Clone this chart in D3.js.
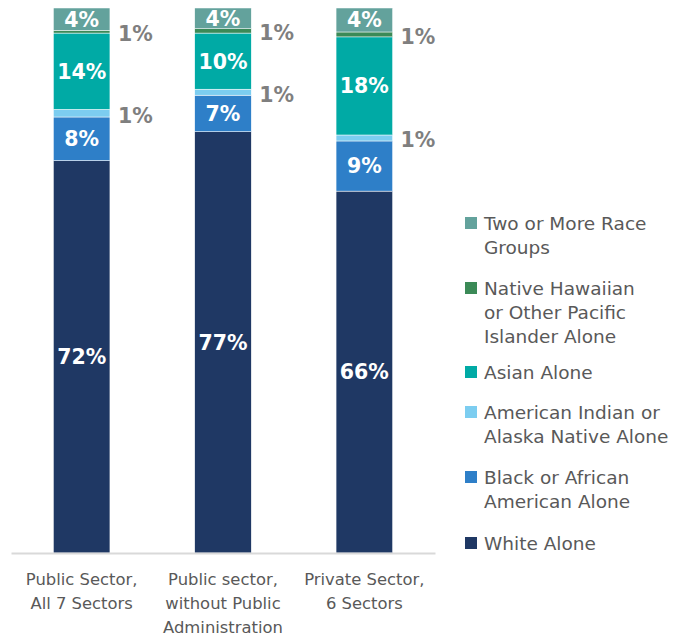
<!DOCTYPE html>
<html>
<head>
<meta charset="utf-8">
<script src="https://cdn.jsdelivr.net/npm/d3@7"></script>
<style>
  body { margin: 0; background: #fff; }
  svg text { font-family: "Century Gothic", "DejaVu Sans", sans-serif; }
</style>
</head>
<body>
<svg id="chart" width="689" height="637"></svg>
<script>
// sectors (x axis tick labels, one array of lines per bar)
var sectors = [
  ["Public Sector,", "All 7 Sectors"],
  ["Public sector,", "without Public", "Administration"],
  ["Private Sector,", "6 Sectors"]
];

// series, stacked bottom to top (percent of workers)
var white = [72, 77.3, 66.4];
var black = [8, 6.7, 9.2];
var aian = [1.4, 1.1, 1.1];
var asian = [14, 10.3, 18];
var nhpi = [0.5, 0.8, 0.9];
var twoPlus = [4.1, 3.8, 4.4];

var seriesNames = ["White Alone", "Black or African American Alone", "American Indian or Alaska Native Alone",
  "Asian Alone", "Native Hawaiian or Other Pacific Islander Alone", "Two or More Race Groups"];
var legendLines = [
  ["White Alone"],
  ["Black or African", "American Alone"],
  ["American Indian or", "Alaska Native Alone"],
  ["Asian Alone"],
  ["Native Hawaiian", "or Other Pacific", "Islander Alone"],
  ["Two or More Race", "Groups"]
];
var colors = ["#1f3864", "#2e7fc8", "#7ccdf0", "#00aaa5", "#3b8a57", "#63a29c"];
var outside = [false, false, true, false, true, false];

var svg = d3.select("#chart");

var rows = sectors.map(function(s, i) {
  return {i: i, s0: white[i], s1: black[i], s2: aian[i], s3: asian[i], s4: nhpi[i], s5: twoPlus[i]};
});
var keys = ["s0", "s1", "s2", "s3", "s4", "s5"];
var stacked = d3.stack().keys(keys)(rows);

var x = d3.scaleBand().domain(d3.range(sectors.length)).range([11, 435]).paddingInner(0.6).paddingOuter(0.3);
var y = d3.scaleLinear().domain([0, 100]).range([553, 8]);

// bars
var layer = svg.append("g").selectAll("g")
  .data(stacked)
  .join("g")
  .attr("fill", function(d, k) { return colors[k]; });

layer.selectAll("rect")
  .data(function(d) { return d; })
  .join("rect")
  .attr("x", function(d) { return x(d.data.i); })
  .attr("width", x.bandwidth())
  .attr("y", function(d) { return y(d[1]); })
  .attr("height", function(d) { return y(d[0]) - y(d[1]); })
  .attr("stroke", "#fff")
  .attr("stroke-width", 0.5);

// value labels
stacked.forEach(function(layerData, k) {
  svg.append("g").selectAll("text")
    .data(layerData)
    .join("text")
    .attr("x", function(d) {
      return outside[k] ? x(d.data.i) + x.bandwidth() + 8 : x(d.data.i) + x.bandwidth() / 2;
    })
    .attr("y", function(d) { return (y(d[0]) + y(d[1])) / 2 + (outside[k] ? 2 : 0); })
    .attr("dy", "0.36em")
    .attr("text-anchor", outside[k] ? "start" : "middle")
    .attr("fill", outside[k] ? "#7f7f7f" : "#fff")
    .attr("font-weight", "bold")
    .attr("font-size", outside[k] ? 20.5 : 20.5)
    .text(function(d) { return Math.round(d[1] - d[0]) + "%"; });
});

// x axis
var xAxis = d3.axisBottom(x).tickSize(0).tickFormat("");
var ax = svg.append("g").attr("transform", "translate(0,553)").call(xAxis);
ax.select(".domain").attr("stroke", "#d9d9d9").attr("stroke-width", 2);

var tick = svg.append("g").selectAll("text")
  .data(sectors)
  .join("text")
  .attr("text-anchor", "middle")
  .attr("fill", "#595959")
  .attr("font-size", 16.4)
  .attr("x", function(d, i) { return x(i) + x.bandwidth() / 2; })
  .attr("y", 579);
tick.selectAll("tspan")
  .data(function(d) { return d; })
  .join("tspan")
  .attr("x", function() { return d3.select(this.parentNode).attr("x"); })
  .attr("dy", function(d, j) { return j === 0 ? "0.36em" : 24; })
  .text(function(d) { return d; });

// legend (top to bottom is reverse of stacking)
var legendY = [543, 477, 412, 372, 288, 223];
var leg = svg.append("g").selectAll("g")
  .data(seriesNames)
  .join("g")
  .attr("transform", function(d, k) { return "translate(465," + legendY[k] + ")"; });
leg.append("rect")
  .attr("x", 0).attr("y", -6).attr("width", 12).attr("height", 12)
  .attr("fill", function(d, k) { return colors[k]; });
var lt = leg.append("text")
  .attr("x", 19)
  .attr("fill", "#595959")
  .attr("font-size", 18.5);
lt.selectAll("tspan")
  .data(function(d, k) { return legendLines[k]; })
  .join("tspan")
  .attr("x", 19)
  .attr("dy", function(d, j) { return j === 0 ? "0.36em" : 24; })
  .text(function(d) { return d; });
</script>
</body>
</html>
